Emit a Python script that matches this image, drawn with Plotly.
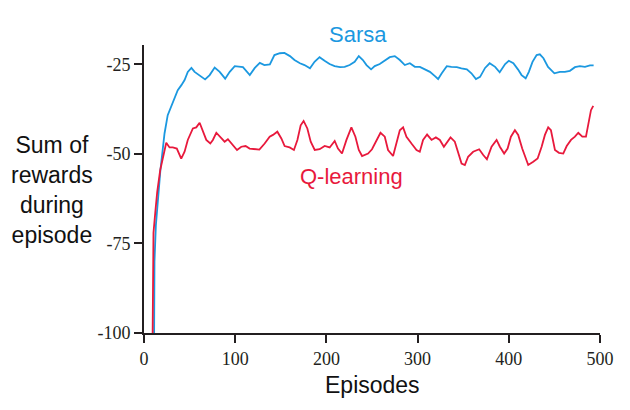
import plotly.graph_objects as go

sarsa_ep = [10.5, 11.5, 13, 15, 18, 20, 22.5, 26, 30, 33.5, 37, 41, 44.5, 48, 52, 55.5, 61, 67, 72, 77.5,
            83, 89, 94, 99.5, 108.5, 116, 121.5, 127, 132, 138, 143, 149, 154, 160, 165, 171, 176, 182,
            187, 192.5, 198, 203.5, 209, 215, 220, 225.5, 231, 235.5, 240, 244, 249, 253, 258.5, 264,
            269.5, 275, 280.5, 286, 291.5, 297, 302.5, 308, 313.5, 319, 322.5, 326.5, 332, 337, 343, 348,
            354, 359, 364, 368.5, 374, 379, 385, 390, 396, 400, 405, 410, 414, 418.5, 422, 426, 430.5,
            434, 438, 443, 450, 456, 461.5, 467, 472.5, 478, 483.5, 489, 493]
sarsa_reward = [-130, -80, -70, -63, -54.5, -50, -44.3, -39.2, -36.8, -34.5, -32.2, -30.8, -29.4, -27.1, -26.0,
                -27.1, -28.0, -29.2, -28.0, -25.9, -27.1, -29.0, -27.1, -25.5, -25.8, -28.0, -26.0, -24.6,
                -25.2, -25.0, -22.4, -21.9, -21.8, -22.7, -23.8, -24.7, -25.2, -26.1, -24.3, -23.0, -24.0,
                -24.9, -25.5, -25.8, -25.7, -25.2, -24.3, -22.7, -23.8, -25.2, -26.4, -25.5, -24.9, -24.0,
                -23.0, -22.7, -23.8, -25.2, -24.7, -25.7, -25.7, -26.4, -27.1, -28.3, -29.1, -27.5, -25.5,
                -25.7, -25.8, -26.1, -26.4, -27.5, -29.1, -28.5, -26.0, -24.7, -25.7, -27.2, -24.9, -24.0,
                -24.7, -26.4, -28.0, -28.9, -27.1, -24.3, -22.4, -22.2, -23.3, -25.7, -27.5, -27.1, -27.1,
                -26.8, -25.8, -25.5, -25.7, -25.3, -25.3]

q_ep = [8.5, 10.4, 12.6, 14.5, 17.8, 20.5, 22.5, 24.4, 28, 31.6, 36, 40.8, 44.5, 48, 53.6, 57.3, 61, 64.5,
        68.3, 72.7, 75.5, 79.3, 83.6, 88.4, 92, 97.5, 102, 106.7, 111.4, 115.8, 121.3, 126.5, 132.3, 137.8,
        141.4, 146.2, 150.6, 154.2, 159.7, 164.4, 168.2, 171.8, 175, 179.1, 182.8, 187.2, 192.6, 198.1,
        203.6, 209.1, 212.7, 217.1, 222, 227.4, 231.8, 235.5, 239.1, 245.7, 250, 255.6, 259.3, 264, 267.6,
        273.1, 276.8, 280.5, 284.1, 287.8, 293.3, 298.8, 302.4, 306, 310.4, 315.3, 320, 324.4, 328.8,
        332.4, 336.1, 340.8, 344.5, 348.2, 351.8, 355.4, 360.9, 367.5, 372, 376, 381.1, 386.6, 390.2,
        394.9, 398.7, 402.3, 406.7, 410.3, 414.7, 418.4, 421.3, 426.8, 431.6, 436, 439.6, 443.2, 446.2,
        450.6, 455, 459.7, 463.5, 468.2, 472.5, 476.2, 480.6, 484.6, 487.2, 490.1, 492.6]
q_reward = [-130, -72, -65.7, -60.6, -54.5, -51.5, -48.5, -46.9, -48.2, -48.2, -48.5, -51.3, -49.4, -46.1,
            -42.9, -42.6, -41.3, -43.4, -46.1, -47.1, -46.1, -44.1, -45.2, -46.6, -45.9, -47.5, -48.9, -48.0,
            -47.8, -48.5, -48.7, -48.8, -47.1, -45.2, -44.7, -43.8, -45.7, -47.8, -48.2, -48.9, -46.1, -42.0,
            -40.8, -42.9, -46.6, -48.9, -48.7, -47.8, -48.2, -46.4, -48.5, -49.9, -46.1, -42.6, -45.2, -48.9,
            -50.6, -49.9, -48.7, -45.7, -44.1, -45.2, -48.9, -50.6, -47.1, -43.4, -42.6, -45.2, -47.1, -48.9,
            -49.4, -46.1, -44.6, -46.1, -45.4, -46.1, -48.0, -46.6, -45.4, -46.6, -49.9, -52.7, -53.1, -50.8,
            -49.4, -48.7, -50.3, -51.5, -48.0, -46.1, -48.0, -49.9, -48.5, -45.2, -43.4, -44.7, -48.5, -51.3,
            -53.1, -52.2, -51.3, -48.0, -44.7, -42.6, -43.4, -48.9, -49.7, -49.9, -47.8, -46.1, -45.2, -44.1,
            -45.2, -45.2, -41.5, -37.8, -36.6]

x_ticks = [0, 100, 200, 300, 400, 500]
y_ticks = [-100, -75, -50, -25]

BLUE = "#1b98e0"
RED = "#e8193c"
AXIS = "#231f20"
SANS = "Liberation Sans, Arial, Helvetica, sans-serif"
SERIF = "Liberation Serif, Times New Roman, serif"

fig = go.Figure()
fig.add_trace(go.Scatter(x=sarsa_ep, y=sarsa_reward, mode="lines", name="Sarsa",
                         line=dict(color=BLUE, width=1.8), showlegend=False))
fig.add_trace(go.Scatter(x=q_ep, y=q_reward, mode="lines", name="Q-learning",
                         line=dict(color=RED, width=1.8), showlegend=False))

fig.add_annotation(x=235, y=1.038, xref="x", yref="paper", text="Sarsa", showarrow=False,
                   font=dict(family=SANS, size=22, color=BLUE), xanchor="center", yanchor="middle")
fig.add_annotation(x=228, y=-56.2, xref="x", yref="y", text="Q-learning", showarrow=False,
                   font=dict(family=SANS, size=22, color=RED), xanchor="center", yanchor="middle")
fig.add_annotation(x=-0.202, y=0.495, xref="paper", yref="paper",
                   text="Sum of<br>rewards<br>during<br>episode", showarrow=False,
                   font=dict(family=SANS, size=23, color="#111"), xanchor="center", yanchor="middle",
                   align="center")
fig.add_annotation(x=0.5, y=-0.179, xref="paper", yref="paper", text="Episodes", showarrow=False,
                   font=dict(family=SANS, size=23, color="#111"), xanchor="center", yanchor="middle")

fig.update_layout(
    width=630, height=410,
    margin=dict(l=144, r=30, t=45, b=77),
    paper_bgcolor="white", plot_bgcolor="white",
    xaxis=dict(range=[0, 500], tickvals=x_ticks, ticktext=[str(v) for v in x_ticks],
               showgrid=False, zeroline=False, showline=True, linecolor=AXIS, linewidth=2,
               ticks="outside", ticklen=8, tickwidth=2, tickcolor=AXIS,
               tickfont=dict(family=SERIF, size=18, color=AXIS)),
    yaxis=dict(range=[-100, -19.6], tickvals=y_ticks, ticktext=[str(v) for v in y_ticks],
               showgrid=False, zeroline=False, showline=True, linecolor=AXIS, linewidth=2,
               ticks="outside", ticklen=8, tickwidth=2, tickcolor=AXIS,
               tickfont=dict(family=SERIF, size=18, color=AXIS)),
)

fig.write_html("out.html")
